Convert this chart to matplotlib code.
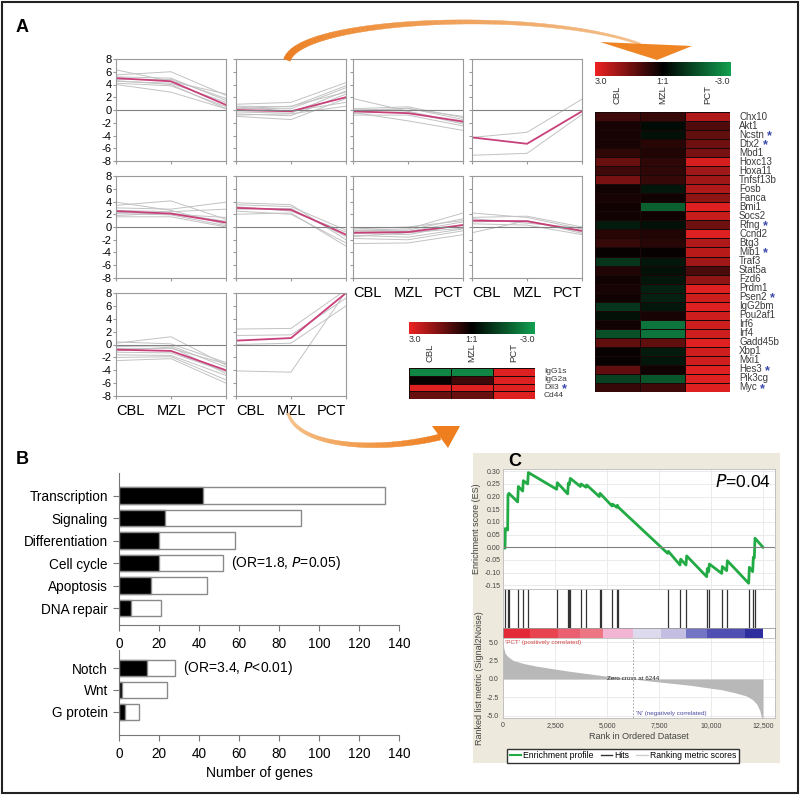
import matplotlib
matplotlib.use("Agg")
import matplotlib.pyplot as plt
import numpy as np
from matplotlib.colors import LinearSegmentedColormap, to_rgb
from matplotlib.patches import Rectangle, Polygon
from matplotlib.lines import Line2D

plt.rcParams['font.family'] = ['Liberation Sans', 'DejaVu Sans']
plt.rcParams['axes.unicode_minus'] = False

# ---------------- data: panel A, expression profiles (CBL, MZL, PCT) ----------------
stages = ["CBL", "MZL", "PCT"]

r1c1_mean = [5.0, 4.5, 0.8]
r1c1_genes = [[6.3, 4.5, 2.5], [5.5, 6.0, 2.3], [4.8, 4.8, 1.8], [4.5, 4.2, 1.2],
              [4.2, 3.8, 0.5], [4.0, 2.8, 0.2], [5.2, 5.0, 1.5], [4.6, 4.0, 0.2]]
r1c2_mean = [0.0, -0.2, 2.0]
r1c2_genes = [[0.9, 1.2, 4.3], [0.6, 0.5, 3.8], [0.3, 0.2, 3.5], [-0.3, -0.5, 3.0],
              [-0.6, -0.9, 2.5], [-1.0, -1.5, 1.8], [0.5, -0.2, 1.2], [-0.8, -0.6, 0.6],
              [0.2, 0.6, 2.8]]
r1c3_mean = [-0.2, -0.5, -1.8]
r1c3_genes = [[1.8, -0.2, -2.0], [0.2, 0.5, -1.2], [-0.3, 0.3, -1.5], [-0.5, -0.3, -2.2],
              [-0.8, -0.8, -2.5], [-0.4, -1.7, -3.2], [0.0, 0.2, -1.0]]
r1c4_mean = [-4.3, -5.3, -0.2]
r1c4_genes = [[-4.3, -3.5, 1.7], [-7.1, -6.8, -0.7]]

r2c1_mean = [2.5, 2.1, 0.7]
r2c1_genes = [[3.9, 2.6, 0.4], [3.4, 4.1, 1.2], [3.0, 2.8, 3.9], [2.6, 2.4, 2.8],
              [2.1, 1.9, 0.2], [1.6, 1.6, 0.0], [2.3, 2.0, 1.5], [1.8, 2.2, 0.9]]
r2c2_mean = [3.0, 2.7, -1.2]
r2c2_genes = [[3.8, 3.5, -2.0], [3.5, 3.2, -0.5], [2.0, 2.2, -3.0], [2.8, 2.9, -1.5],
              [3.2, 2.5, -0.8], [2.5, 2.0, -2.5]]
r2c3_mean = [-0.9, -0.8, 0.3]
r2c3_genes = [[-0.5, -0.3, 2.2], [-0.6, -0.5, 1.3], [-0.8, -0.7, 0.8], [-1.0, -1.2, 0.4],
              [-1.3, -1.6, -0.3], [-1.8, -2.0, -0.6], [-2.6, -2.5, -1.2], [-0.3, 0.0, 1.0],
              [-1.5, -0.9, -0.2]]
r2c4_mean = [1.0, 0.9, -0.6]
r2c4_genes = [[2.2, 1.5, -0.3], [1.5, 1.7, 0.0], [0.8, 1.0, -1.0], [0.5, 0.3, -1.2],
              [-0.9, 1.0, -0.8], [1.3, 0.6, -0.2]]

r3c1_mean = [-0.8, -1.0, -4.0]
r3c1_genes = [[0.4, 0.1, -2.8], [0.2, 1.2, -3.2], [-0.3, -0.2, -3.5], [-1.2, -1.3, -4.2],
              [-1.6, -1.7, -4.8], [-2.0, -1.9, -5.5], [-2.5, -2.2, -6.0], [-0.6, -0.6, -3.0],
              [-1.0, -0.4, -4.5]]
r3c2_mean = [0.6, 1.0, 8.0]
r3c2_genes = [[2.4, 2.5, 8.5], [1.4, 1.5, 7.2], [0.0, 0.2, 6.0], [-4.1, -4.3, 8.2]]

# ---------------- data: panel A, heatmaps ----------------
big_genes = ["Chx10", "Akt1", "Ncstn", "Dtx2", "Mbd1", "Hoxc13", "Hoxa11", "Tnfsf13b",
             "Fosb", "Fanca", "Bmi1", "Socs2", "Rfng", "Ccnd2", "Btg3", "Mib1", "Traf3",
             "Stat5a", "Fzd6", "Prdm1", "Psen2", "IgG2bm", "Pou2af1", "Irf6", "Irf4",
             "Gadd45b", "Xbp1", "Mxi1", "Hes3", "Pik3cg", "Myc"]
big_starred = ["Ncstn", "Dtx2", "Rfng", "Mib1", "Psen2", "Hes3", "Myc"]
big_cbl = [0.8, 0.3, 0.3, 0.3, 0.6, 1.3, 0.8, 1.5, 0.2, 0.3, 0.2, 0.2, -0.5, 0.5, 0.7,
           0.1, -1.0, 0.4, 0.2, 0.3, 0.2, -1.0, -0.3, 0.2, -1.5, 1.2, 0.1, 0.1, 1.2, -1.2, 0.7]
big_mzl = [0.7, -0.2, -0.3, 0.5, 0.4, 0.6, 0.6, 0.7, -0.4, 0.2, -1.8, 0.2, -0.3, 0.4, 0.5,
           0.1, -0.4, -0.3, -0.4, -0.6, -0.6, -0.4, 0.3, -2.2, -2.2, 1.2, -0.5, -0.4, 0.2, -1.6, 0.8]
big_pct = [2.2, 1.0, 1.2, 1.4, 1.5, 2.7, 2.0, 2.0, 2.2, 1.8, 2.8, 2.5, 1.4, 2.8, 2.2,
           2.3, 2.0, 0.9, 1.8, 2.8, 2.6, 2.8, 2.6, 2.6, 2.6, 2.8, 2.6, 2.6, 2.8, 2.8, 2.8]

small_genes = ["IgG1s", "IgG2a", "Dll3", "Cd44"]
small_starred = ["Dll3"]
small_cbl = [-2.5, 0.1, 2.8, 1.3]
small_mzl = [-2.5, 0.8, 2.8, 1.3]
small_pct = [2.8, 2.8, 2.8, 2.8]

# ---------------- data: panel B ----------------
func_cats = ["Transcription", "Signaling", "Differentiation", "Cell cycle", "Apoptosis", "DNA repair"]
func_total = [133, 91, 58, 52, 44, 21]
func_sig = [42, 23, 20, 20, 16, 6]
path_cats = ["Notch", "Wnt", "G protein"]
path_total = [28, 24, 10]
path_sig = [14, 1.5, 3]

# ---------------- data: panel C (GSEA) ----------------
es_rank = [0, 96, 112, 224, 240, 288, 705, 737, 946, 978, 1186, 1218, 2581, 2613, 3110, 3142,
           3190, 3238, 3719, 3751, 3991, 4023, 4632, 4665, 5242, 5274, 5466, 5498, 5546, 7919,
           7951, 8512, 8544, 8800, 8833, 9794, 9826, 9890, 9923, 10516, 10548, 10756, 10788,
           11814, 11846, 12006, 12038, 12086, 12118, 12503]
es_value = [-0.004, -0.003, 0.074, 0.068, 0.207, 0.213, 0.179, 0.240, 0.222, 0.263, 0.250,
            0.295, 0.229, 0.255, 0.211, 0.253, 0.247, 0.272, 0.240, 0.250, 0.237, 0.246, 0.200,
            0.213, 0.163, 0.170, 0.158, 0.166, 0.158, -0.024, -0.016, -0.070, -0.047, -0.070,
            -0.034, -0.116, -0.084, -0.096, -0.066, -0.103, -0.076, -0.092, -0.053, -0.142,
            -0.079, -0.096, -0.039, -0.042, 0.036, 0.0]
hit_ranks = [112, 240, 272, 721, 962, 1202, 2597, 3126, 3174, 3238, 3735, 4007, 4648, 4696,
             5257, 5482, 5546, 7935, 8528, 8817, 9810, 9907, 10532, 10772, 11830, 12022, 12103]
metric_rank = [0, 30, 100, 250, 500, 1000, 1600, 2500, 3200, 4000, 4800, 5600, 6244, 7000,
               8000, 9000, 9600, 10500, 11200, 11700, 12000, 12200, 12350, 12450, 12500]
metric_value = [5.4, 4.3, 3.5, 3.0, 2.5, 2.1, 1.75, 1.35, 1.05, 0.75, 0.45, 0.2, 0.0, -0.25,
                -0.55, -0.85, -1.1, -1.45, -1.9, -2.3, -2.8, -3.4, -4.3, -5.4, -5.4]
band_edges = [0, 1300, 2645, 3700, 4809, 6252, 7614, 8817, 9810, 11622, 12503]
band_colors = ['#e42a36', '#e84450', '#ea6070', '#ec7682', '#f2b6d4', '#dedaee', '#c4bee2',
               '#7474c4', '#5050b2', '#2e2e9e']

W, H = 800, 795
fig = plt.figure(figsize=(W / 100, H / 100), dpi=100)


def px_axes(x0, y0, x1, y1):
    return fig.add_axes([x0 / W, 1 - y1 / H, (x1 - x0) / W, (y1 - y0) / H])


def fig_xy(x, y):
    return (x / W, 1 - y / H)


# outer frame and panel C background
fig.patches.append(Rectangle((0.002, 0.002), 0.996, 0.996, transform=fig.transFigure,
                             fill=False, edgecolor='#222222', lw=1.5, zorder=10))
fig.patches.append(Rectangle(fig_xy(473, 763), 307 / W, 310 / H, transform=fig.transFigure,
                             facecolor='#ede9dc', edgecolor='none', zorder=-10))

for lab, x, y in [("A", 22, 28), ("B", 22, 460), ("C", 515, 461)]:
    fig.text(*fig_xy(x, y), lab, fontsize=13, fontweight='bold', va='center', ha='center')

# ---------------- panel A: profiles ----------------
col_x = [(116, 226), (236, 346), (353, 463), (472, 582)]
row_y = [(59, 161), (176, 278), (293, 396)]
profiles = [
    (0, 0, r1c1_mean, r1c1_genes), (0, 1, r1c2_mean, r1c2_genes),
    (0, 2, r1c3_mean, r1c3_genes), (0, 3, r1c4_mean, r1c4_genes),
    (1, 0, r2c1_mean, r2c1_genes), (1, 1, r2c2_mean, r2c2_genes),
    (1, 2, r2c3_mean, r2c3_genes), (1, 3, r2c4_mean, r2c4_genes),
    (2, 0, r3c1_mean, r3c1_genes), (2, 1, r3c2_mean, r3c2_genes),
]
bottom_panels = {(2, 0), (2, 1), (1, 2), (1, 3)}
for r, c, mean, genes in profiles:
    ax = px_axes(col_x[c][0], row_y[r][0], col_x[c][1], row_y[r][1])
    for g in genes:
        ax.plot(range(3), g, color='#c2c2c2', lw=0.7)
    ax.plot(range(3), mean, color='#c8407a', lw=1.3)
    ax.axhline(0, color='#808080', lw=0.8)
    ax.set_xlim(0, 2)
    ax.set_ylim(-8, 8)
    ax.set_yticks(range(-8, 9, 2))
    ax.set_xticks(range(3))
    for s in ax.spines.values():
        s.set_color('#9a9a9a')
    ax.tick_params(length=2, color='#9a9a9a', labelsize=8, pad=1)
    if c != 0:
        ax.set_yticklabels([])
    if (r, c) in bottom_panels:
        ax.set_xticklabels(stages, fontsize=10.5)
        ax.tick_params(axis='x', pad=4)
        for lbl, ha in zip(ax.get_xticklabels(), ['left', 'center', 'right']):
            lbl.set_ha(ha)
    else:
        ax.set_xticklabels([])

# ---------------- panel A: heatmaps ----------------
hm_cmap = LinearSegmentedColormap.from_list("gbr", ['#12a050', '#000000', '#ee2222'])


def draw_colorbar(x0, y0, x1, y1):
    ax = px_axes(x0, y0, x1, y1)
    ax.imshow(np.linspace(3, -3, 256)[None, :], cmap=hm_cmap, vmin=-3, vmax=3, aspect='auto')
    ax.axis('off')
    ty = y1 + 6
    fig.text(*fig_xy(x0, ty), "3.0", fontsize=6.5, ha='left', va='center', color='#333333')
    fig.text(*fig_xy((x0 + x1) / 2, ty), "1:1", fontsize=6.5, ha='center', va='center', color='#333333')
    fig.text(*fig_xy(x1, ty), "-3.0", fontsize=6.5, ha='right', va='center', color='#333333')


def draw_heatmap(x0, y0, x1, y1, genes, starred, cbl, mzl, pct, label_y, fs):
    ax = px_axes(x0, y0, x1, y1)
    vals = np.array([cbl, mzl, pct]).T
    ax.pcolormesh(vals, cmap=hm_cmap, vmin=-3, vmax=3, edgecolors='#1a0808', linewidth=0.6)
    ax.set_xlim(0, 3)
    ax.set_ylim(len(genes), 0)
    ax.axis('off')
    colw = (x1 - x0) / 3
    for i, s in enumerate(stages):
        fig.text(*fig_xy(x0 + colw * (i + 0.5), label_y), s, rotation=90, fontsize=6.8,
                 ha='center', va='center', color='#333333')
    for i, g in enumerate(genes):
        t = ax.text(1.0 + 9 / (x1 - x0), 1 - (i + 0.5) / len(genes), g, transform=ax.transAxes,
                    fontsize=fs, va='center', ha='left', color='#3a3a3a')
        if g in starred:
            ax.annotate("*", xy=(1, 0.5), xycoords=t, xytext=(2.5, -1.0),
                        textcoords='offset points', fontsize=9, color='#3a4aa8',
                        fontweight='bold', va='center', ha='left')


draw_colorbar(595, 62, 730, 76)
draw_heatmap(595, 112, 730, 392, big_genes, big_starred, big_cbl, big_mzl, big_pct, 95, 7.0)
draw_colorbar(409, 322, 535, 334)
draw_heatmap(409, 368, 535, 399, small_genes, small_starred, small_cbl, small_mzl, small_pct, 353, 6.0)


# orange swoosh arrows (pixel coordinates, decorative)
def swoosh(p0, p1, p2, p3, w0, w1, c0, c1, head_base_l, head_base_r, head_tip, head_col):
    P = np.array([p0, p1, p2, p3], dtype=float)
    t = np.linspace(0, 1, 80)[:, None]
    pts = ((1 - t) ** 3) * P[0] + 3 * ((1 - t) ** 2) * t * P[1] + 3 * (1 - t) * t ** 2 * P[2] + t ** 3 * P[3]
    d = np.gradient(pts, axis=0)
    d /= np.linalg.norm(d, axis=1)[:, None]
    nrm = np.stack([-d[:, 1], d[:, 0]], axis=1)
    wid = np.linspace(w0, w1, len(pts))[:, None] / 2
    left = pts + nrm * wid
    right = pts - nrm * wid
    ca, cb = np.array(to_rgb(c0)), np.array(to_rgb(c1))
    for i in range(len(pts) - 1):
        f = i / (len(pts) - 2)
        quad = [left[i], left[i + 1], right[i + 1], right[i]]
        quad = [fig_xy(x, y) for x, y in quad]
        fig.patches.append(Polygon(quad, closed=True, transform=fig.transFigure,
                                   facecolor=ca * (1 - f) + cb * f, edgecolor=ca * (1 - f) + cb * f,
                                   lw=0.3, zorder=5))
    head = [fig_xy(*head_base_l), fig_xy(*head_tip), fig_xy(*head_base_r)]
    fig.patches.append(Polygon(head, closed=True, transform=fig.transFigure,
                               facecolor=head_col, edgecolor='none', zorder=5))


swoosh((287, 60), (300, 18), (540, 8), (640, 44), 7, 2, '#ec7a1a', '#f3c08c',
       (600, 42), (692, 46), (657, 60), '#ef8424')
swoosh((288, 413), (298, 448), (380, 452), (440, 437), 2.5, 6, '#f6c690', '#ee7e1e',
       (432, 426), (448, 448), (460, 426), '#ee7e1e')

# ---------------- panel B ----------------


def bar_panel(ax, cats, total, sig, ylim):
    y = np.arange(len(cats))
    ax.barh(y, total, height=0.72, color='white', edgecolor='#8a8a8a', lw=1.0)
    ax.barh(y, sig, height=0.72, color='black', edgecolor='#8a8a8a', lw=1.0)
    ax.set_yticks(y)
    ax.set_yticklabels(cats, fontsize=9.8)
    ax.set_ylim(*ylim)
    ax.set_xlim(0, 140)
    ax.set_xticks(range(0, 141, 20))
    ax.tick_params(axis='x', labelsize=9.8, length=4, color='#777777', pad=5)
    ax.tick_params(axis='y', length=4, color='#777777', pad=4)
    for s in ['top', 'right']:
        ax.spines[s].set_visible(False)
    for s in ['left', 'bottom']:
        ax.spines[s].set_color('#777777')
    return y


axb1 = px_axes(119, 473, 399, 625)
bar_panel(axb1, func_cats, func_total, func_sig, (5.75, -1.0))
axb1.text(func_total[3] + 4, 3, "(OR=1.8, $\\it{P}$=0.05)", fontsize=10, va='center')
axb2 = px_axes(119, 650, 399, 735)
bar_panel(axb2, path_cats, path_total, path_sig, (3.05, -0.82))
axb2.text(path_total[0] + 4, 0, "(OR=3.4, $\\it{P}$<0.01)", fontsize=10, va='center')
axb2.set_xlabel("Number of genes", fontsize=10, labelpad=3)

# ---------------- panel C ----------------
xmax = 13080
ax_es = px_axes(503, 469, 775, 589)
ax_es.set_facecolor('white')
ax_es.plot(es_rank, es_value, color='#22aa44', lw=2.0)
ax_es.axhline(0, color='#808080', lw=0.8)
ax_es.set_xlim(0, xmax)
ax_es.set_ylim(-0.1646, 0.309)
ax_es.set_yticks(np.arange(-0.15, 0.31, 0.05))
ax_es.set_yticklabels([f"{v:.2f}" for v in np.arange(-0.15, 0.31, 0.05)])
ax_es.set_xticks(range(0, 12501, 2500))
ax_es.set_xticklabels([])
ax_es.grid(color='#e8e8e8', lw=0.6)
ax_es.set_axisbelow(True)
ax_es.tick_params(labelsize=5, length=0, pad=2, colors='#444444')
ax_es.set_ylabel("Enrichment score (ES)", fontsize=6.5, color='#444444', labelpad=2)
for s in ax_es.spines.values():
    s.set_color('#bbbbbb')
    s.set_linewidth(0.6)
ax_es.text(0.985, 0.97, "$\\it{P}$=0.04", transform=ax_es.transAxes, fontsize=12.5,
           ha='right', va='top')

ax_hit = px_axes(503, 589, 775, 628)
ax_hit.set_facecolor('white')
ax_hit.vlines(hit_ranks, 0, 1, color='#333333', lw=0.9)
ax_hit.set_xlim(0, xmax)
ax_hit.set_ylim(0, 1)
ax_hit.set_xticks([])
ax_hit.set_yticks([])
for s in ax_hit.spines.values():
    s.set_color('#bbbbbb')
    s.set_linewidth(0.6)

ax_band = px_axes(503, 628, 775, 638)
for i, col in enumerate(band_colors):
    ax_band.axvspan(band_edges[i], band_edges[i + 1], color=col, lw=0)
ax_band.set_xlim(0, xmax)
ax_band.set_xticks([])
ax_band.set_yticks([])
for s in ax_band.spines.values():
    s.set_color('#999999')
    s.set_linewidth(0.6)

ax_m = px_axes(503, 638, 775, 718)
ax_m.set_facecolor('white')
ax_m.fill_between(metric_rank, metric_value, 0, color='#b8b8b8', lw=0)
ax_m.axvline(6244, color='#999999', lw=0.6, ls=(0, (2, 2)))
ax_m.set_xlim(0, xmax)
ax_m.set_ylim(-5.3, 5.57)
ax_m.set_yticks([-5, -2.5, 0, 2.5, 5])
ax_m.set_yticklabels(["-5.0", "-2.5", "0.0", "2.5", "5.0"])
ax_m.set_xticks(range(0, 12501, 2500))
ax_m.set_xticklabels(["0", "2,500", "5,000", "7,500", "10,000", "12,500"])
ax_m.grid(color='#e8e8e8', lw=0.6)
ax_m.set_axisbelow(True)
ax_m.tick_params(labelsize=5, length=0, pad=3, colors='#444444')
ax_m.set_xlabel("Rank in Ordered Dataset", fontsize=6.5, color='#444444', labelpad=2)
ax_m.set_ylabel("Ranked list metric (Signal2Noise)", fontsize=6.5, color='#444444', labelpad=2)
for s in ax_m.spines.values():
    s.set_color('#bbbbbb')
    s.set_linewidth(0.6)
ax_m.text(100, 4.95, "'PCT' (positively correlated)", fontsize=4.5, color='#d04848', va='center')
ax_m.text(6244, 0.05, "Zero cross at 6244", fontsize=4.5, color='#222222', ha='center', va='center')
ax_m.text(6400, -4.75, "'N' (negatively correlated)", fontsize=4.5, color='#4848a0', va='center')

handles = [Line2D([], [], color='#22aa44', lw=1.5), Line2D([], [], color='#333333', lw=1),
           Line2D([], [], color='#cccccc', lw=1)]
fig.legend(handles, ["Enrichment profile", "Hits", "Ranking metric scores"],
           loc='center', bbox_to_anchor=fig_xy(623, 756), ncol=3, fontsize=6.2,
           frameon=True, fancybox=False, edgecolor='#333333', framealpha=1,
           handlelength=1.3, handletextpad=0.3, columnspacing=0.8, borderpad=0.3)

fig.savefig("out.png", dpi=100)
